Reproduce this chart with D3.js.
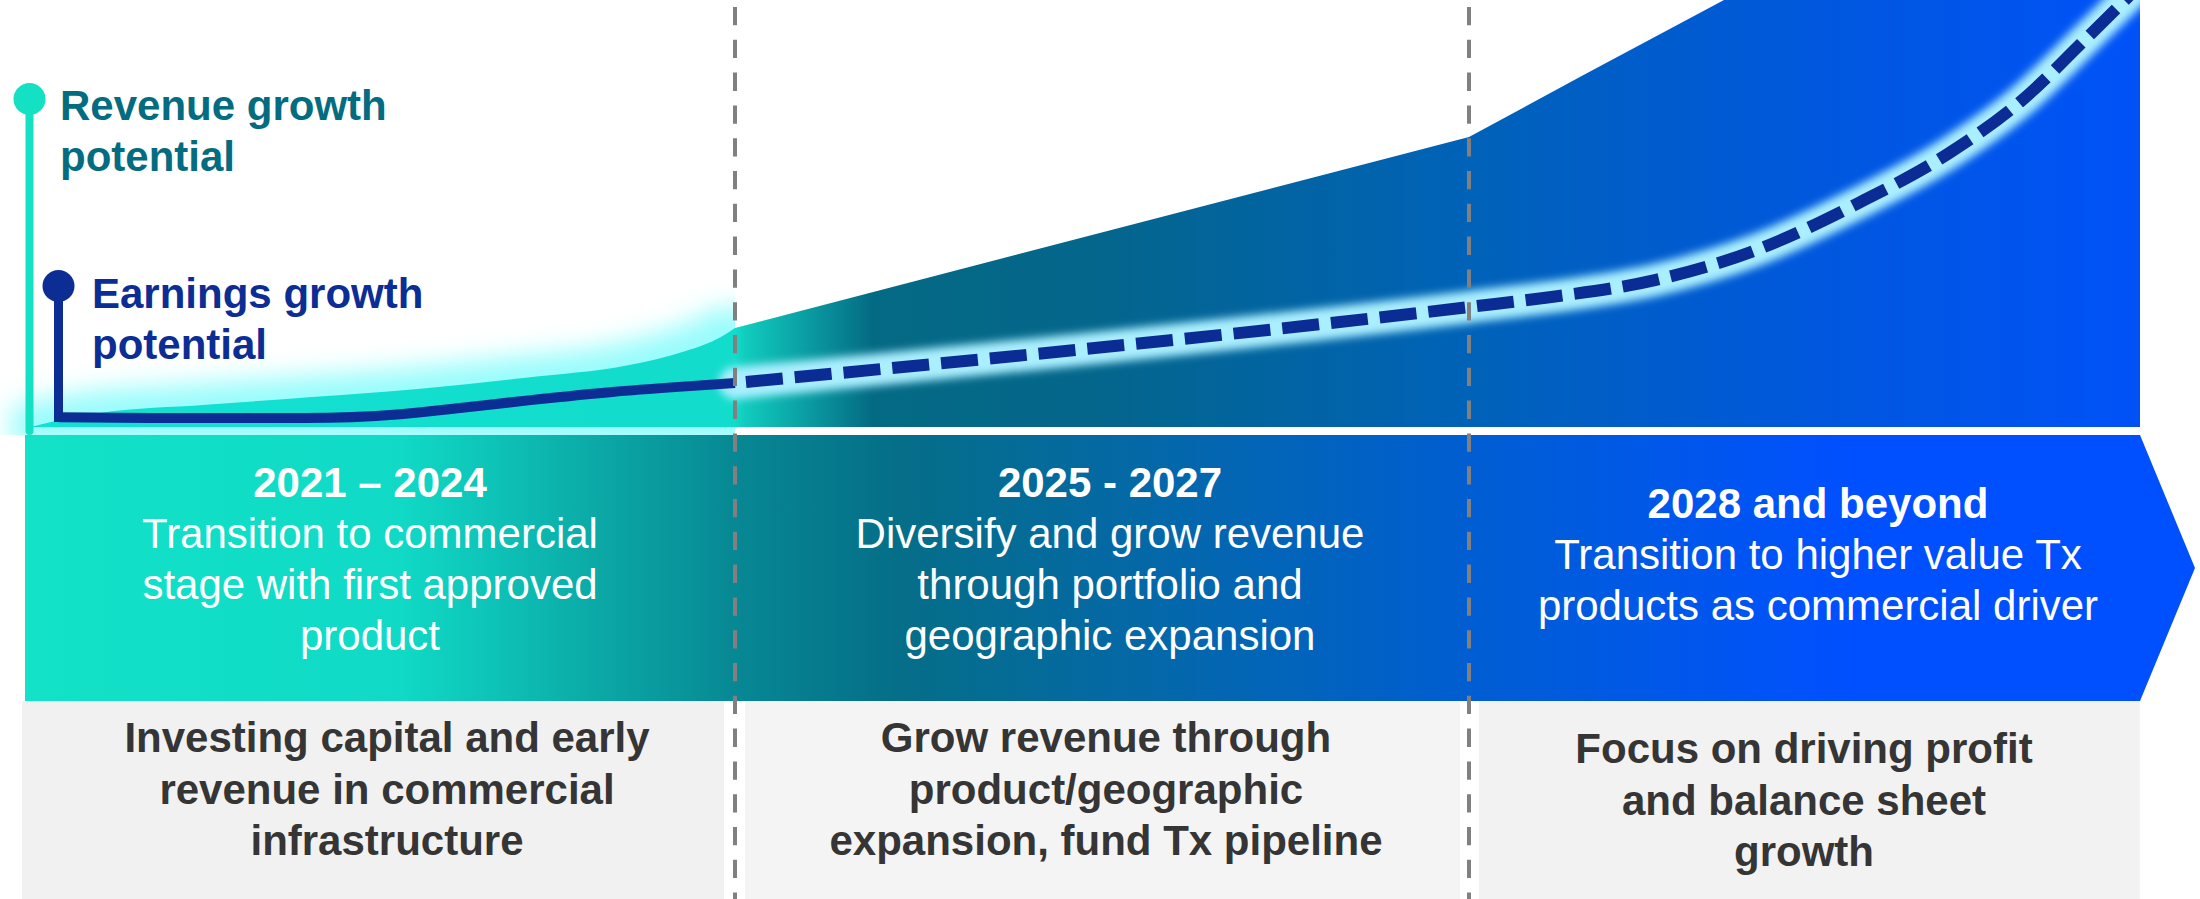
<!DOCTYPE html>
<html><head><meta charset="utf-8">
<script src="https://cdn.jsdelivr.net/npm/d3@7"></script>
<style>
html,body{margin:0;padding:0;background:#fff;overflow:hidden}
svg{display:block}
text{font-family:"Liberation Sans",Arial,Helvetica,sans-serif}
</style>
</head><body>
<svg id="chart" width="2200" height="899"></svg>
<script>
// ---------------- data ----------------
const stageBreaks = [0, 1, 2, 3];
const phaseTitles = ["2021 – 2024", "2025 - 2027", "2028 and beyond"];
const phaseDescriptions = [
  ["Transition to commercial", "stage with first approved", "product"],
  ["Diversify and grow revenue", "through portfolio and", "geographic expansion"],
  ["Transition to higher value Tx", "products as commercial driver"]
];
const phaseFocus = [
  ["Investing capital and early", "revenue in commercial", "infrastructure"],
  ["Grow revenue through", "product/geographic", "expansion, fund Tx pipeline"],
  ["Focus on driving profit", "and balance sheet", "growth"]
];
const seriesLabels = [["Revenue growth", "potential"], ["Earnings growth", "potential"]];
const revenueStage = [0, 0.03, 0.10, 0.25, 0.40, 0.55, 0.70, 0.85, 0.93, 0.98, 1.00, 2.00, 2.17, 2.38, 2.60, 3.00];
const revenueValue = [0, 1.2, 3.3, 5.2, 7.0, 8.9, 11.5, 14.5, 17.8, 21.1, 23.2, 67.9, 82.4, 100, 117.8, 150.4];
const earningsStage = [0.041, 0.17, 0.39, 0.525, 0.61, 0.71, 0.826, 0.92, 1.00, 2.00, 2.12, 2.277, 2.429, 2.581, 2.716, 2.821, 2.925, 3.00];
const earningsValue = [2.3, 2.1, 2.1, 3.0, 4.45, 6.3, 8.2, 9.4, 10.3, 28.1, 30.4, 34.4, 41.5, 52.5, 64.2, 76.1, 91.8, 103.5];

// ---------------- layout ----------------
const svg = d3.select("#chart");
const x = d3.scaleLinear().domain(stageBreaks).range([30, 735, 1469, 2140]);
const y = d3.scaleLinear().domain([0, 100]).range([427, 0]);
const FONT = 42, LINE = 51;

const defs = svg.append("defs");
function grad(id, stops, x1, x2) {
  const g = defs.append("linearGradient").attr("id", id)
    .attr("gradientUnits", "userSpaceOnUse")
    .attr("x1", x1).attr("x2", x2).attr("y1", 0).attr("y2", 0);
  stops.forEach(s => g.append("stop").attr("offset", (s[0] - x1) / (x2 - x1)).attr("stop-color", s[1]));
}
grad("areaGrad", [[25, "#12E2D2"], [735, "#12DCCC"], [745, "#10CCBE"], [873, "#046A84"],
  [1100, "#04668C"], [1469, "#0062B8"], [1800, "#0058DC"], [2140, "#0052F8"]], 25, 2140);
grad("bandGrad", [[25, "#12E2C8"], [400, "#10DAC6"], [600, "#0BA8A6"], [735, "#078894"],
  [900, "#056E88"], [1150, "#0468A8"], [1469, "#005ED2"], [1650, "#0058E8"], [1850, "#0050FF"], [2196, "#0050FF"]], 25, 2196);

const fGlow = defs.append("filter").attr("id", "areaGlow")
  .attr("filterUnits", "userSpaceOnUse").attr("x", -100).attr("y", 200).attr("width", 1000).attr("height", 400);
fGlow.append("feMorphology").attr("operator", "dilate").attr("radius", 20).attr("result", "d");
fGlow.append("feGaussianBlur").attr("in", "d").attr("stdDeviation", 13);
const fLine = defs.append("filter").attr("id", "lineGlow")
  .attr("filterUnits", "userSpaceOnUse").attr("x", 0).attr("y", -200).attr("width", 2200).attr("height", 800);
fLine.append("feGaussianBlur").attr("stdDeviation", 4);

defs.append("clipPath").attr("id", "sec1Clip").append("rect")
  .attr("x", 0).attr("y", 0).attr("width", x(1)).attr("height", 435);
defs.append("clipPath").attr("id", "plotClip").append("rect")
  .attr("x", 0).attr("y", 0).attr("width", x(3)).attr("height", 435);

// ---------------- revenue area ----------------
const rev = revenueStage.map((s, i) => ({ s, v: revenueValue[i] }));
const revSec1 = rev.filter(d => d.s <= 1);
const revRest = rev.filter(d => d.s >= 1);
const lineMono = d3.line().x(d => x(d.s)).y(d => y(d.v)).curve(d3.curveMonotoneX);
const lineLin = d3.line().x(d => x(d.s)).y(d => y(d.v)).curve(d3.curveLinear);
const top1 = lineMono(revSec1);
const top2 = lineLin(revRest).replace(/^M/, "L");
const areaPath = top1 + top2 + `L${x(3)},${y(0)}L${x(0)},${y(0)}Z`;
const area1Path = top1 + `L${x(1)},${y(0)}L${x(0)},${y(0)}Z`;

svg.append("g").attr("clip-path", "url(#sec1Clip)")
  .append("path").attr("d", area1Path).attr("fill", "#98FCFC").attr("filter", "url(#areaGlow)");
const plot = svg.append("g").attr("clip-path", "url(#plotClip)");
plot.append("path").attr("d", areaPath).attr("fill", "url(#areaGrad)");

// ---------------- band ----------------
const bandTop = 435, bandBot = 701;
svg.append("path")
  .attr("d", `M25,${bandTop}H${x(3)}L2195,${(bandTop + bandBot) / 2}L${x(3)},${bandBot}H25Z`)
  .attr("fill", "url(#bandGrad)");

// grey boxes
const boxes = [[22, 724, "#F1F1F1"], [745, 1460, "#F4F4F4"], [1479, 2140, "#F2F2F2"]];
svg.selectAll("rect.box").data(boxes).enter().append("rect").attr("class", "box")
  .attr("x", d => d[0]).attr("y", bandBot).attr("width", d => d[1] - d[0]).attr("height", 899 - bandBot)
  .attr("fill", d => d[2]);

// ---------------- earnings line ----------------
const earn = earningsStage.map((s, i) => ({ s, v: earningsValue[i] }));
const earn1 = earn.filter(d => d.s <= 1);
const earn2 = earn.filter(d => d.s >= 1);
plot.append("path").attr("d", lineMono(earn2)).attr("fill", "none")
  .attr("stroke", "#AAEFFF").attr("stroke-width", 32).attr("stroke-linecap", "round")
  .attr("filter", "url(#lineGlow)");
plot.append("path").attr("d", lineMono(earn2)).attr("fill", "none")
  .attr("stroke", "#0B2C94").attr("stroke-width", 12)
  .attr("stroke-dasharray", "37 12").attr("stroke-dashoffset", 38);
plot.append("path").attr("d", lineMono(earn1)).attr("fill", "none")
  .attr("stroke", "#0C2D94").attr("stroke-width", 10);

// ---------------- series markers + labels ----------------
const markerCols = ["#14E0C4", "#0C2D94"];
const markerX = [29.5, 58.5], markerTop = [99, 286], markerBot = [431, 422], markerW = [8, 9];
const labelX = [60, 92], labelY = [120, 308], labelCol = ["#046C80", "#0C2D94"];
seriesLabels.forEach((lab, i) => {
  svg.append("line").attr("x1", markerX[i]).attr("x2", markerX[i])
    .attr("y1", markerTop[i]).attr("y2", markerBot[i])
    .attr("stroke", markerCols[i]).attr("stroke-width", markerW[i])
    .attr("stroke-linecap", i === 0 ? "round" : "butt");
  svg.append("circle").attr("cx", markerX[i]).attr("cy", markerTop[i]).attr("r", 16).attr("fill", markerCols[i]);
  const t = svg.append("text").attr("x", labelX[i]).attr("y", labelY[i])
    .attr("fill", labelCol[i]).attr("font-size", FONT).attr("font-weight", "bold");
  lab.forEach((l, j) => t.append("tspan").attr("x", labelX[i]).attr("dy", j ? LINE : 0).text(l));
});

// ---------------- phase texts ----------------
const bandCX = [370, 1110, 1818], bandTitleY = [497, 497, 518];
const focusCX = [387, 1106, 1804], focusY = [752, 752, 763];
phaseTitles.forEach((title, i) => {
  const t = svg.append("text").attr("text-anchor", "middle").attr("fill", "#fff").attr("font-size", FONT)
    .attr("x", bandCX[i]).attr("y", bandTitleY[i]);
  t.append("tspan").attr("x", bandCX[i]).attr("font-weight", "bold").text(title);
  phaseDescriptions[i].forEach(l => t.append("tspan").attr("x", bandCX[i]).attr("dy", LINE).text(l));
  const f = svg.append("text").attr("text-anchor", "middle").attr("fill", "#353535").attr("font-size", FONT)
    .attr("font-weight", "bold").attr("x", focusCX[i]).attr("y", focusY[i]);
  phaseFocus[i].forEach((l, j) => f.append("tspan").attr("x", focusCX[i]).attr("dy", j ? LINE + 0.5 : 0).text(l));
});

// ---------------- stage dividers ----------------
[1, 2].forEach(s => {
  svg.append("line").attr("x1", x(s)).attr("x2", x(s)).attr("y1", 7).attr("y2", 899)
    .attr("stroke", "#808080").attr("stroke-width", 4).attr("stroke-dasharray", "18.3 14.5");
});
</script>
</body></html>
